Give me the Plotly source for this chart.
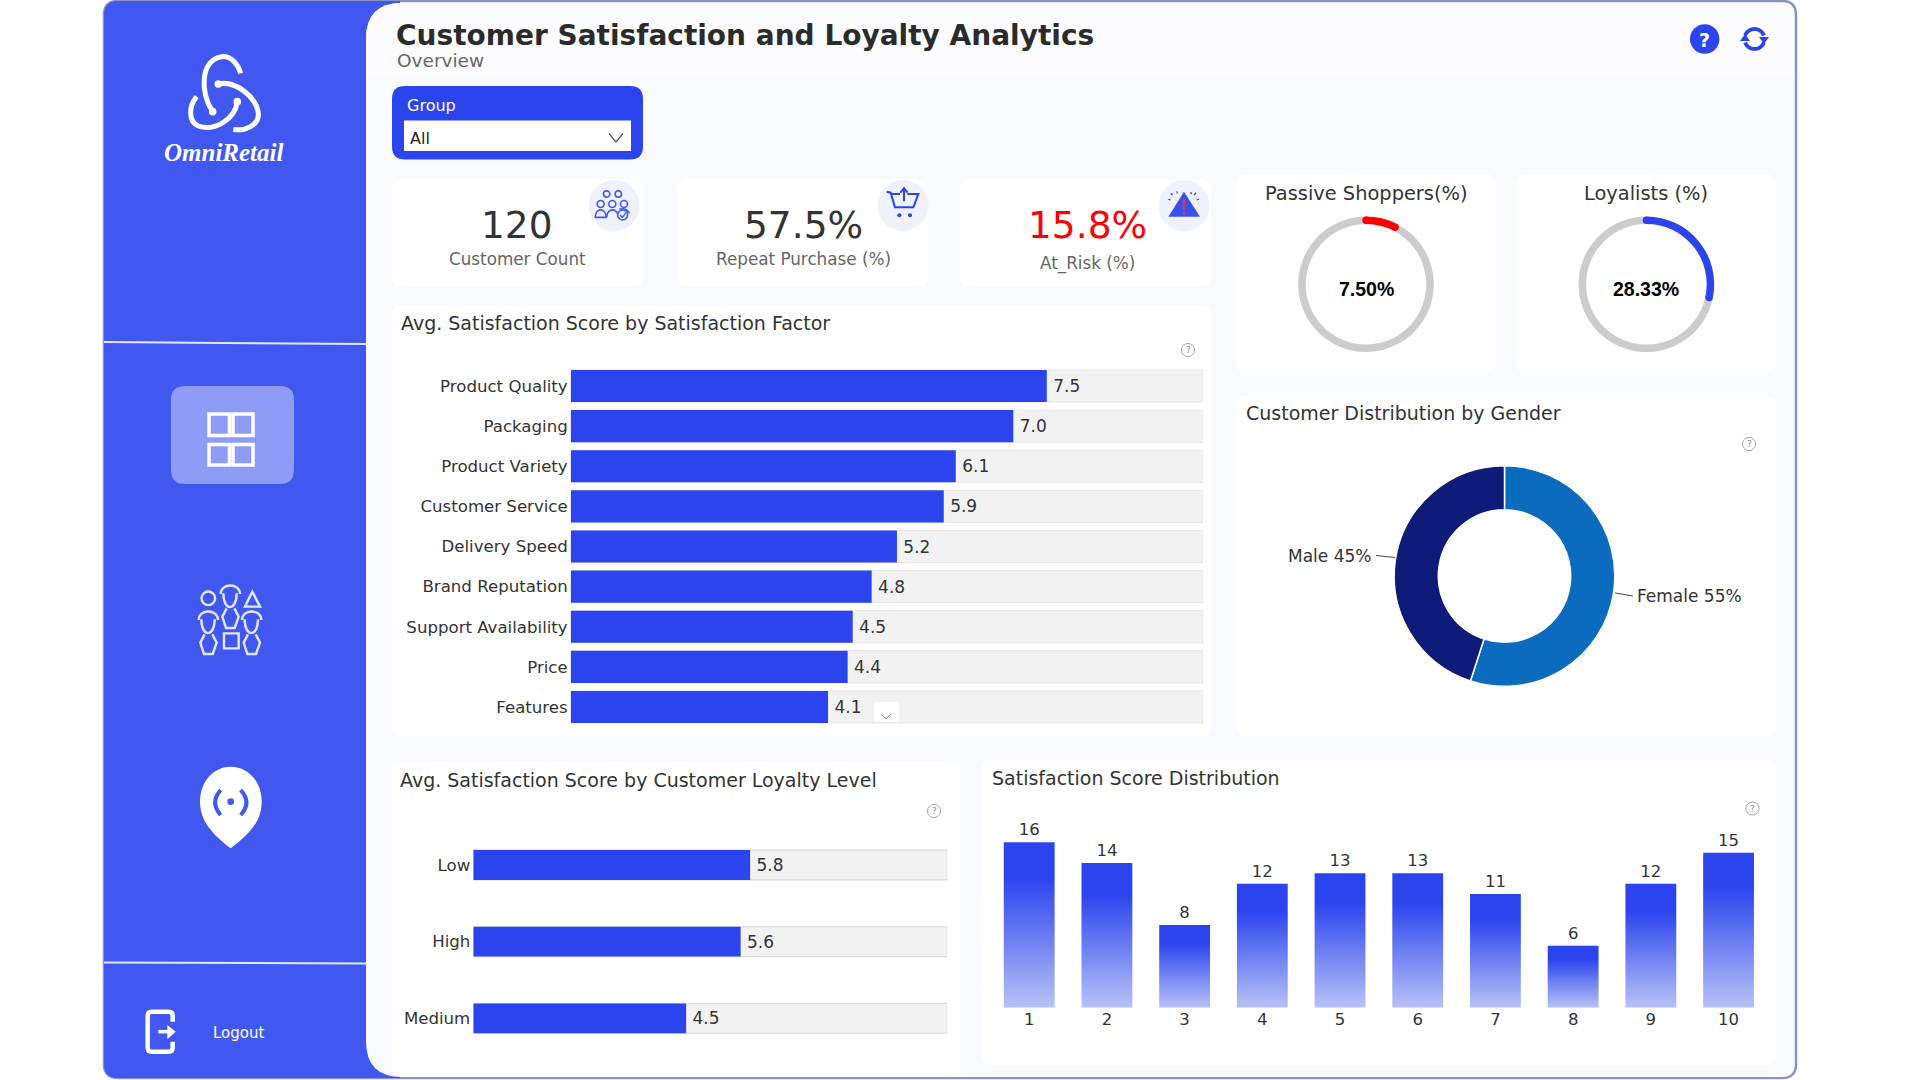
import math
import re
import plotly.graph_objects as go

# ---------- data ----------
factor_names = ["Product Quality", "Packaging", "Product Variety", "Customer Service", "Delivery Speed",
                "Brand Reputation", "Support Availability", "Price", "Features"]
factor_scores = [7.53, 7.0, 6.09, 5.9, 5.16, 4.76, 4.46, 4.38, 4.07]
loyalty_levels = ["Low", "High", "Medium"]
loyalty_scores = [5.84, 5.64, 4.49]
score_bins = ["1", "2", "3", "4", "5", "6", "7", "8", "9", "10"]
score_counts = [16, 14, 8, 12, 13, 13, 11, 6, 12, 15]
gender_labels = ["Female", "Male"]
gender_pct = [55, 45]
kpi_labels = ["Customer Count", "Repeat Purchase (%)", "At_Risk (%)"]
kpi_values = ["120", "57.5%", "15.8%"]
passive_pct = 7.5
loyalist_pct = 28.33
score_max = 10

# ---------- style ----------
W, H = 1920, 1080
SIDE = "#4158F0"
BLUE = "#2C44EE"
TXT = "#333333"
SUB = "#666666"
FONT = "DejaVu Sans"
TRACK = "#F2F2F2"


def fx(x):
    return x / W


def fy(y):
    return 1 - y / H


def pth(d, ox=0.0, oy=0.0, s=1.0):
    """local pixel path -> paper-coordinate path"""
    out, pair = [], []
    for t in re.findall(r"[A-Za-z]|-?\d+\.?\d*", d):
        if t.isalpha():
            out.append(t)
        else:
            pair.append(float(t))
            if len(pair) == 2:
                out.append(f"{fx(ox + pair[0] * s):.6f},{fy(oy + pair[1] * s):.6f}")
                pair = []
    return " ".join(out)


def rrect(x0, y0, x1, y1, r=10, tl=None, tr=None, br=None, bl=None):
    tl = r if tl is None else tl
    tr = r if tr is None else tr
    br = r if br is None else br
    bl = r if bl is None else bl
    return (f"M {x0 + tl} {y0} L {x1 - tr} {y0} Q {x1} {y0} {x1} {y0 + tr} L {x1} {y1 - br} Q {x1} {y1} {x1 - br} {y1} "
            f"L {x0 + bl} {y1} Q {x0} {y1} {x0} {y1 - bl} L {x0} {y0 + tl} Q {x0} {y0} {x0 + tl} {y0} Z")


def arc(cx, cy, r, a0, a1, n=30):
    pts = []
    for i in range(n + 1):
        a = math.radians(a0 + (a1 - a0) * i / n)
        pts.append(f"{'M' if i == 0 else 'L'} {cx + r * math.sin(a):.2f} {cy - r * math.cos(a):.2f}")
    return " ".join(pts)


shapes = []
annots = []


def add_path(d, fill=None, line=None, width=0, layer="above", ox=0.0, oy=0.0, s=1.0):
    shapes.append(dict(type="path", xref="paper", yref="paper", layer=layer, path=pth(d, ox, oy, s),
                       fillcolor=fill if fill else "rgba(0,0,0,0)",
                       line=dict(color=line if line else "rgba(0,0,0,0)", width=width)))


def add_circle(cx, cy, r, fill=None, line=None, width=0, layer="above"):
    shapes.append(dict(type="circle", xref="paper", yref="paper", layer=layer,
                       x0=fx(cx - r), x1=fx(cx + r), y0=fy(cy + r), y1=fy(cy - r),
                       fillcolor=fill if fill else "rgba(0,0,0,0)",
                       line=dict(color=line if line else "rgba(0,0,0,0)", width=width)))


def text(x, y, s, size=16, color=TXT, anchor="left", family=FONT, weight=None, style=None):
    annots.append(dict(xref="paper", yref="paper", x=fx(x), y=fy(y), text=s, showarrow=False,
                       xanchor=anchor, yanchor="middle", borderpad=0,
                       font=dict(family=family, size=size, color=color, weight=weight, style=style)))


# ---------- frame ----------
add_path(rrect(104, 1, 1796, 1078, 14), fill="#FFFFFF", line="#8D93BE", width=2.5, layer="below")
add_path(rrect(104, 1, 400, 1078, 14, tr=0, br=0), fill=SIDE, layer="below")
add_path(rrect(366, 3, 1794, 1077, 0, tl=36, bl=36, tr=12, br=12), fill="#F9FAFE", layer="below")
add_path(rrect(366, 3, 1794, 78, 0, tl=36, tr=12), fill="#FCFCFF", layer="below")

cards = [(392, 179, 643, 286), (678, 179, 928, 286), (960, 179, 1211, 286),
         (1236, 174, 1496, 372), (1516, 174, 1776, 372), (1236, 396, 1776, 736),
         (392, 305, 1211, 736), (392, 762, 960, 1076), (982, 760, 1776, 1065)]
for c in cards:
    add_path(rrect(*c, 10), fill="#FFFFFF", layer="below")

# ---------- sidebar ----------
add_path("M 104 342 L 366 344", line="#E4E8FF", width=2)
add_path("M 104 962.5 L 366 963.5", line="#E4E8FF", width=2)

LOGO = dict(ox=150, oy=40, s=1 / 3)
for d in ["M 188 215 C 150 160 150 60 215 50 C 245 47 265 75 272 100",
          "M 205 132 C 260 120 320 175 325 220 C 328 255 285 275 250 268",
          "M 262 185 C 255 240 190 275 145 258 C 115 245 115 200 140 170"]:
    add_path(d, line="#FFFFFF", width=5, **LOGO)
for cx, cy in [(188, 215), (205, 132), (262, 185)]:
    add_circle(150 + cx / 3, 40 + cy / 3, 3.8, fill="#FFFFFF")
text(223.5, 152.5, "OmniRetail", size=25, color="#FFFFFF", anchor="center",
     family="Liberation Serif", weight=700, style="italic")

add_path(rrect(171, 386, 294, 484, 14), fill="#8E9CF8", layer="below")
for x0, x1 in [(209, 229.5), (233, 253)]:
    for y0, y1 in [(414, 435.5), (444.5, 465)]:
        add_path(f"M {x0} {y0} L {x1} {y0} L {x1} {y1} L {x0} {y1} Z", line="#FFFFFF", width=3.5)

PPL = dict(ox=180, oy=570, s=1 / 3)
PC = "#E3E7FE"
add_circle(180 + 85 / 3, 570 + 85 / 3, 6.8, line=PC, width=2.4)
add_path("M 217 65 L 240 110 L 195 110 Z", line=PC, width=2.4, **PPL)
add_path("M 132 190 L 176 190 L 176 235 L 132 235 Z", line=PC, width=2.4, **PPL)
for dx, dy in [(0, 0), (-66, 78), (64, 78)]:
    add_path(f"M {122 + dx} {72 + dy} C {122 + dx} {38 + dy} {180 + dx} {38 + dy} {180 + dx} {72 + dy} "
             f"M {130 + dx} {70 + dy} C {130 + dx} {125 + dy} {170 + dx} {125 + dy} {170 + dx} {70 + dy} "
             f"M {140 + dx} {115 + dy} L {127 + dx} {140 + dy} L {138 + dx} {174 + dy} L {164 + dx} {174 + dy} "
             f"L {176 + dx} {140 + dy} L {163 + dx} {115 + dy}", line=PC, width=2.4, **PPL)

PIN = dict(ox=130, oy=750, s=1 / 3)
add_path("M 302 295 C 250 255 210 215 210 155 C 210 90 255 50 302 50 C 350 50 395 90 395 155 "
         "C 395 215 355 255 302 295 Z", fill="#FFFFFF", **PIN)
add_circle(130 + 302 / 3, 750 + 155 / 3, 3.3, fill=SIDE)
add_path("M 272 120 C 250 145 250 170 272 195 M 332 120 C 355 145 355 170 332 195", line=SIDE, width=4, **PIN)

add_path("M 128 815 L 128 797 Q 128 785 116 785 L 65 785 Q 53 785 53 797 L 53 893 Q 53 905 65 905 L 116 905 "
         "Q 128 905 128 893 L 128 875", line="#FFFFFF", width=4.5, **PIN)
add_path("M 85 845 L 125 845", line="#FFFFFF", width=3.5, **PIN)
add_path("M 112 825 L 137 845 L 112 868 Z", fill="#FFFFFF", **PIN)
text(238, 1032.5, "Logout", size=15, color="#FFFFFF", anchor="center")

# ---------- header ----------
text(394.5, 36, "Customer Satisfaction and Loyalty Analytics", size=28, color="#2B2B2B", weight=700)
text(395.5, 61, "Overview", size=18.5, color=SUB)
add_circle(1704.7, 39, 14.7, fill=BLUE)
text(1704.7, 39.5, "?", size=19, color="#FFFFFF", anchor="center", weight=700)
add_path(arc(1754.5, 39, 10, -70, 70), line=BLUE, width=3.8)
add_path(arc(1754.5, 39, 10, 110, 250), line=BLUE, width=3.8)
add_path("M 1759 37 L 1769 37 L 1764 44 Z", fill=BLUE)
add_path("M 1740 41 L 1750 41 L 1745 34 Z", fill=BLUE)

# ---------- filter ----------
add_path(rrect(392, 86, 643, 159.5, 13), fill=BLUE, layer="below")
add_path(rrect(404, 120.5, 631, 151, 0), fill="#FFFFFF", layer="below")
text(406, 106, "Group", size=16, color="#FFFFFF")
text(409, 138, "All", size=16, color="#222222")
add_path("M 609 133.5 L 616 142 L 623 133.5", line="#555555", width=1.2)

# ---------- KPI cards ----------
kpi_cx = [517.4, 803.3, 1087.4]
kpi_lab_y = [259, 259, 263.5]
kpi_col = ["#333333", "#333333", "#FF0000"]
for cx, ly, col, lab, val in zip(kpi_cx, kpi_lab_y, kpi_col, kpi_labels, kpi_values):
    text(cx, 224.5, val, size=37.5, color=col, anchor="center")
    text(cx, ly, lab, size=16.8, color=SUB, anchor="center")

ICON = "#4158F0"
for cx in [614, 903, 1184]:
    add_circle(cx, 205.5, 25.5, fill="#EFF1FD")

GRP = dict(ox=580, oy=170, s=1 / 3)
for hx, hy, r in [(80, 72, 9.5), (115, 72, 9.5), (62, 102, 10.5), (97, 102, 10.5), (132, 102, 10.5)]:
    add_circle(580 + hx / 3, 170 + hy / 3, r / 3, fill="#EFF1FD", line=ICON, width=1.6)
add_path("M 46 142 C 46 112 78 112 78 142 Z", line=ICON, width=1.6, **GRP)
add_path("M 80 142 C 80 112 115 112 115 142", line=ICON, width=1.6, **GRP)
add_path("M 118 118 C 135 112 148 125 148 130", line=ICON, width=1.6, **GRP)
add_circle(580 + 128 / 3, 170 + 135 / 3, 5, fill="#EFF1FD", line=ICON, width=1.6)
add_path("M 120 135 L 127 142 L 138 128", line=ICON, width=1.4, **GRP)

CART = dict(ox=870, oy=170, s=1 / 3)
add_path("M 50 65 L 62 68 L 75 112 L 130 112 L 145 72 L 112 72 M 90 72 L 66 72", line=BLUE, width=2, **CART)
add_path("M 102 94 L 102 58 M 91 68 L 102 55 L 113 68", line=BLUE, width=2, **CART)
add_circle(870 + 88 / 3, 170 + 136 / 3, 2, fill=BLUE)
add_circle(870 + 120 / 3, 170 + 136 / 3, 2, fill=BLUE)

WARN = dict(ox=1150, oy=170, s=1 / 3)
add_path("M 102 65 L 150 140 L 55 140 Z", fill="#3B50EE", **WARN)
add_path("M 98 90 L 105 90 L 104 122 L 99 122 Z", fill="#F0393A", **WARN)
add_circle(1150 + 101.5 / 3, 170 + 130 / 3, 1.2, fill="#F0393A")
add_path("M 55 88 L 62 90 M 62 70 L 68 75 M 80 64 L 82 70 M 122 66 L 125 72 M 138 69 L 132 75 M 147 87 L 140 90",
         line=BLUE, width=1.3, **WARN)

# ---------- gauges ----------
G_R, G_T = 67.8, 7.5
gauges = [(1366, 284.3, "Passive Shoppers(%)", passive_pct, "#FF0000"),
          (1646.4, 284.3, "Loyalists (%)", loyalist_pct, BLUE)]
traces = []
for cx, cy, title, v, col in gauges:
    traces.append(go.Pie(values=[v, 100 - v], sort=False, direction="clockwise", rotation=0, hole=1 - G_T / G_R,
                         textinfo="none", showlegend=False, marker=dict(colors=[col, "#CCCCCC"], line=dict(width=0)),
                         domain=dict(x=[fx(cx - G_R), fx(cx + G_R)], y=[fy(cy + G_R), fy(cy - G_R)])))
    rm = G_R - G_T / 2
    end = math.radians(3.6 * v)
    add_circle(cx, cy - rm, G_T / 2, fill=col)
    add_circle(cx + rm * math.sin(end), cy - rm * math.cos(end), G_T / 2, fill=col)
    text(cx, 193, title, size=19.4, color=TXT, anchor="center")
    text(cx, 288.6, f"{v:.2f}%", size=19.5, color="#000000", anchor="center", family="Liberation Sans", weight=700)

# ---------- gender donut ----------
traces.append(go.Pie(labels=gender_labels, values=gender_pct, sort=False, direction="clockwise", rotation=0, hole=0.6,
                     textinfo="none", showlegend=False,
                     marker=dict(colors=["#0B6CBF", "#0F1B78"], line=dict(color="#FFFFFF", width=1.5)),
                     domain=dict(x=[fx(1504.5 - 110.3), fx(1504.5 + 110.3)], y=[fy(576 + 110.3), fy(576 - 110.3)])))
text(1636, 596, f"{gender_labels[0]} {gender_pct[0]}%", size=17)
add_path("M 1615 593 L 1633 596", line="#444444", width=1)
text(1372, 556, f"{gender_labels[1]} {gender_pct[1]}%", size=17, anchor="right")
add_path("M 1376 555.5 L 1395 557.5", line="#444444", width=1)

# ---------- chart titles / help marks ----------
text(400, 323, "Avg. Satisfaction Score by Satisfaction Factor", size=19)
text(1245, 413, "Customer Distribution by Gender", size=19)
text(399, 780, "Avg. Satisfaction Score by Customer Loyalty Level", size=19)
text(991, 777.5, "Satisfaction Score Distribution", size=19)
for cx, cy in [(1188, 350), (1749, 444), (934, 811), (1752.5, 808.5)]:
    add_circle(cx, cy, 6.6, line="#A8A8A8", width=1)
    text(cx, cy, "?", size=9, color="#888888", anchor="center")

# ---------- bar charts ----------
layout_axes = {}


def hbar(names, vals, idx, x0, x1, y0, y1, edge):
    xa, ya = f"x{idx}", f"y{idx}"
    traces.append(go.Bar(y=names, x=[score_max] * len(names), orientation="h", xaxis=xa, yaxis=ya, showlegend=False,
                         marker=dict(color=TRACK, line=dict(color=edge, width=1)), hoverinfo="skip"))
    traces.append(go.Bar(y=names, x=vals, orientation="h", xaxis=xa, yaxis=ya, showlegend=False,
                         marker=dict(color=BLUE, line=dict(width=0)), texttemplate="\u2009%{x:.1f}",
                         textposition="outside",
                         textfont=dict(family=FONT, size=17, color=TXT), cliponaxis=False))
    layout_axes[f"xaxis{idx}"] = dict(domain=[fx(x0), fx(x1)], range=[0, score_max], anchor=ya, visible=False,
                                      fixedrange=True)
    layout_axes[f"yaxis{idx}"] = dict(domain=[fy(y1), fy(y0)], anchor=xa, type="category", autorange="reversed",
                                      showgrid=False, zeroline=False, showline=False, ticks="", fixedrange=True,
                                      ticklabelstandoff=2,
                                      tickfont=dict(family=FONT, size=16.6, color=TXT), automargin=False)


hbar(factor_names, factor_scores, 1, 570.7, 1203, 366, 727, "#E6E6E6")
hbar(loyalty_levels, loyalty_scores, 2, 473.3, 947.3, 826.6, 1056.7, "#D4D4D4")

traces.append(go.Bar(x=score_bins, y=score_counts, xaxis="x3", yaxis="y3", showlegend=False,
                     marker=dict(color=BLUE, line=dict(width=0)), text=score_counts, textposition="outside",
                     textfont=dict(family=FONT, size=16.5, color=TXT), cliponaxis=False, width=0.654))
layout_axes["xaxis3"] = dict(domain=[fx(990.35), fx(1767.4)], anchor="y3", type="category", showgrid=False,
                             zeroline=False, showline=False, ticks="", fixedrange=True,
                             tickfont=dict(family=FONT, size=16.5, color=TXT), automargin=False)
layout_axes["yaxis3"] = dict(domain=[fy(1007.7), fy(800)], anchor="x3", range=[0, 20.1], visible=False, fixedrange=True)

# little scroll chevron over the factor chart
add_path(rrect(874, 702, 899, 722, 3), fill="#FFFFFF")
add_path("M 881 714 L 886 719 L 891 714", line="#888888", width=1)

fig = go.Figure(traces)
fig.update_layout(width=W, height=H, margin=dict(l=0, r=0, t=0, b=0), paper_bgcolor="#FFFFFF",
                  plot_bgcolor="rgba(0,0,0,0)", barmode="overlay", shapes=shapes, annotations=annots,
                  font=dict(family=FONT, color=TXT), **layout_axes)
# per-axis bar thickness
fig.update_traces(width=0.39, selector=dict(xaxis="x2"))
fig.update_traces(width=0.733, selector=dict(xaxis="x1"))

post = """
document.body.style.margin='0';document.body.style.overflow='hidden';
var root=document.querySelector('.plotly-graph-div');
var svg=root.querySelector('svg.main-svg');
var ns='http://www.w3.org/2000/svg';
var defs=svg.querySelector('defs')||svg.insertBefore(document.createElementNS(ns,'defs'),svg.firstChild);
var g=document.createElementNS(ns,'linearGradient');
g.setAttribute('id','barFade');g.setAttribute('x1','0');g.setAttribute('y1','0');g.setAttribute('x2','0');g.setAttribute('y2','1');
[['0','#2C44EE'],['0.22','#2C44EE'],['1','#B8C2F6']].forEach(function(s){
  var st=document.createElementNS(ns,'stop');st.setAttribute('offset',s[0]);st.setAttribute('stop-color',s[1]);g.appendChild(st);
});
defs.appendChild(g);
root.querySelectorAll('.subplot.x3y3 .barlayer .point path').forEach(function(p){p.style.setProperty('fill','url(#barFade)');});
"""
fig.write_html("out.html", config=dict(displayModeBar=False), post_script=post)
